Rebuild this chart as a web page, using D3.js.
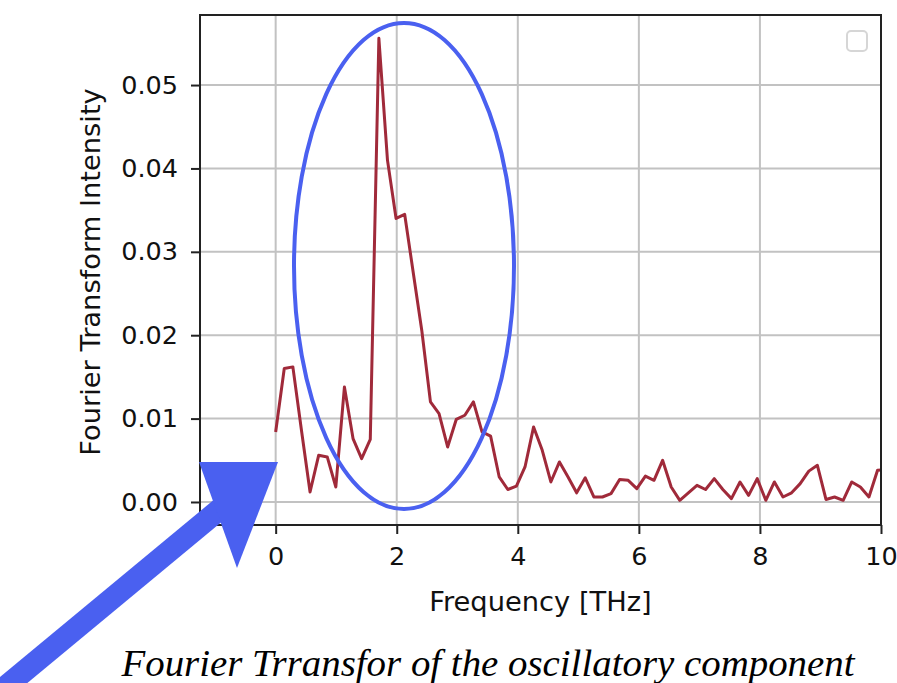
<!DOCTYPE html>
<html>
<head>
<meta charset="utf-8">
<script src="https://cdn.jsdelivr.net/npm/d3@7"></script>
<style>
  body { margin: 0; background: #fff; }
  svg { display: block; }
</style>
</head>
<body>
<div id="chart"></div>
<script>
var freqs = [
  0.000, 0.142, 0.284, 0.426, 0.568, 0.710, 0.852, 0.994, 1.136, 1.278,
  1.420, 1.563, 1.705, 1.847, 1.989, 2.131, 2.273, 2.415, 2.557, 2.699,
  2.841, 2.983, 3.125, 3.267, 3.409, 3.551, 3.693, 3.835, 3.977, 4.119,
  4.261, 4.404, 4.546, 4.688, 4.830, 4.972, 5.114, 5.256, 5.398, 5.540,
  5.682, 5.824, 5.966, 6.108, 6.250, 6.392, 6.534, 6.676, 6.818, 6.960,
  7.102, 7.245, 7.387, 7.529, 7.671, 7.813, 7.955, 8.097, 8.239, 8.381,
  8.523, 8.665, 8.807, 8.949, 9.091, 9.233, 9.375, 9.517, 9.659, 9.801,
  9.943, 10.086
];
var intensity = [
  0.0084, 0.0160, 0.0162, 0.0086, 0.0012, 0.0056, 0.0054, 0.0018, 0.0138, 0.0076,
  0.0052, 0.0075, 0.0556, 0.0410, 0.0340, 0.0345, 0.0275, 0.0205, 0.0120, 0.0106,
  0.0066, 0.0099, 0.0104, 0.0120, 0.0084, 0.0079, 0.0030, 0.0015, 0.0019, 0.0042,
  0.0090, 0.0062, 0.0024, 0.0048, 0.0030, 0.0011, 0.0029, 0.0006, 0.0006, 0.0010,
  0.0027, 0.0026, 0.0016, 0.0031, 0.0026, 0.0050, 0.0018, 0.0002, 0.0011, 0.0020,
  0.0015, 0.0028, 0.0015, 0.0004, 0.0024, 0.0008, 0.0028, 0.0002, 0.0024, 0.0006,
  0.0011, 0.0022, 0.0037, 0.0044, 0.0003, 0.0006, 0.0002, 0.0024, 0.0018, 0.0006,
  0.0038, 0.0039
];
var xTicks = [0, 2, 4, 6, 8, 10];
var yTicks = [0, 0.01, 0.02, 0.03, 0.04, 0.05];
var xLabel = "Frequency [THz]";
var yLabel = "Fourier Transform Intensity";
var caption = "Fourier Trransfor of the oscillatory component";

var width = 897,
  height = 683,
  plot = { left: 200, right: 881, top: 15, bottom: 525 };
var lineColor = "#a02a3a",
  markColor = "#4a60f0",
  gridColor = "#c2c2c2",
  tickFont = 25.5,
  labelFont = 27.3;

var x = d3.scaleLinear().domain([-1.25, 10]).range([plot.left, plot.right]);
var y = d3.scaleLinear().domain([-0.00276, 0.0584]).range([plot.bottom, plot.top]);

var svg = d3
  .select("#chart")
  .append("svg")
  .attr("width", width)
  .attr("height", height)
  .style("font-family", "DejaVu Sans, sans-serif");

svg
  .append("clipPath")
  .attr("id", "plot-clip")
  .append("rect")
  .attr("x", plot.left)
  .attr("y", plot.top)
  .attr("width", plot.right - plot.left)
  .attr("height", plot.bottom - plot.top);

// grid
var grid = svg.append("g").attr("stroke", gridColor).attr("stroke-width", 2);
grid
  .selectAll("line.gx")
  .data(xTicks)
  .enter()
  .append("line")
  .attr("x1", (d) => x(d))
  .attr("x2", (d) => x(d))
  .attr("y1", plot.top)
  .attr("y2", plot.bottom);
grid
  .selectAll("line.gy")
  .data(yTicks)
  .enter()
  .append("line")
  .attr("x1", plot.left)
  .attr("x2", plot.right)
  .attr("y1", (d) => y(d))
  .attr("y2", (d) => y(d));

// data line
var line = d3
  .line()
  .x((d, i) => x(freqs[i]))
  .y((d) => y(d));
svg
  .append("path")
  .datum(intensity)
  .attr("clip-path", "url(#plot-clip)")
  .attr("d", line)
  .attr("fill", "none")
  .attr("stroke", lineColor)
  .attr("stroke-width", 3)
  .attr("stroke-linejoin", "round");

// axes
var xAxis = d3.axisBottom(x).tickValues(xTicks).tickFormat(d3.format("d")).tickSize(9).tickPadding(13);
var yAxis = d3.axisLeft(y).tickValues(yTicks).tickFormat(d3.format(".2f")).tickSize(9).tickPadding(13);

svg
  .append("g")
  .attr("transform", `translate(0,${plot.bottom})`)
  .call(xAxis)
  .call((g) => g.select(".domain").remove());
svg
  .append("g")
  .attr("transform", `translate(${plot.left},0)`)
  .call(yAxis)
  .call((g) => g.select(".domain").remove());
svg
  .selectAll(".tick line")
  .attr("stroke", "#222")
  .attr("stroke-width", 2);
svg
  .selectAll(".tick text")
  .attr("fill", "#111")
  .style("font-size", tickFont + "px")
  .style("font-family", "DejaVu Sans, sans-serif");

svg
  .append("rect")
  .attr("x", plot.left)
  .attr("y", plot.top)
  .attr("width", plot.right - plot.left)
  .attr("height", plot.bottom - plot.top)
  .attr("fill", "none")
  .attr("stroke", "#222")
  .attr("stroke-width", 2);

// empty legend box
svg
  .append("rect")
  .attr("x", 847)
  .attr("y", 31)
  .attr("width", 20)
  .attr("height", 20)
  .attr("rx", 4)
  .attr("fill", "#fff")
  .attr("stroke", "#d6d6d6")
  .attr("stroke-width", 2);

svg
  .append("text")
  .attr("x", (plot.left + plot.right) / 2)
  .attr("y", 611)
  .attr("text-anchor", "middle")
  .attr("fill", "#111")
  .style("font-size", labelFont + "px")
  .text(xLabel);

svg
  .append("text")
  .attr("transform", `translate(100,${(plot.top + plot.bottom) / 2 + 2}) rotate(-90)`)
  .attr("text-anchor", "middle")
  .attr("fill", "#111")
  .style("font-size", labelFont + "px")
  .text(yLabel);

// annotations
svg
  .append("ellipse")
  .attr("cx", x(2.12))
  .attr("cy", y(0.0283))
  .attr("rx", 110)
  .attr("ry", 243)
  .attr("fill", "none")
  .attr("stroke", markColor)
  .attr("stroke-width", 4);

svg
  .append("line")
  .attr("x1", -20)
  .attr("y1", 708)
  .attr("x2", 226)
  .attr("y2", 504)
  .attr("stroke", markColor)
  .attr("stroke-width", 22);

svg
  .append("path")
  .attr("d", "M199,462L278,462L237,568Z")
  .attr("fill", markColor);

svg
  .append("text")
  .attr("x", 488)
  .attr("y", 676)
  .attr("text-anchor", "middle")
  .attr("fill", "#000")
  .style("font-family", "Liberation Serif, serif")
  .style("font-style", "italic")
  .style("font-size", "38.5px")
  .attr("textLength", 733)
  .attr("lengthAdjust", "spacingAndGlyphs")
  .text(caption);
</script>
</body>
</html>
